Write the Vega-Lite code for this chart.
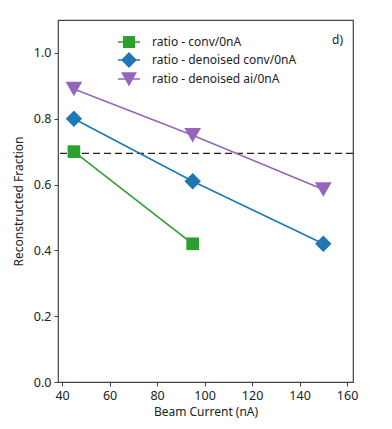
{
  "$schema": "https://vega.github.io/schema/vega-lite/v6.json",
  "autosize": {"type": "none"},
  "padding": {"left": 58, "top": 20, "right": 39, "bottom": 47},
  "width": 295,
  "height": 362,
  "config": {
    "font": "Noto Sans",
    "view": {"stroke": "#444", "strokeWidth": 1.2},
    "axis": {"domain": false, "grid": false, "tickColor": "#444", "tickSize": 4, "labelFontSize": 12.5, "labelColor": "#222", "labelPadding": 3, "titleFontSize": 12, "titleFontWeight": "normal", "titleColor": "#222"},
    "axisY": {"titlePadding": 8},
    "axisX": {"titlePadding": 5}
  },
  "datasets": {
    "series": [
      {"series": "ratio - conv/0nA", "current": 45, "fraction": 0.70},
      {"series": "ratio - conv/0nA", "current": 95, "fraction": 0.42},
      {"series": "ratio - denoised conv/0nA", "current": 45, "fraction": 0.80},
      {"series": "ratio - denoised conv/0nA", "current": 95, "fraction": 0.61},
      {"series": "ratio - denoised conv/0nA", "current": 150, "fraction": 0.42},
      {"series": "ratio - denoised ai/0nA", "current": 45, "fraction": 0.89},
      {"series": "ratio - denoised ai/0nA", "current": 95, "fraction": 0.75},
      {"series": "ratio - denoised ai/0nA", "current": 150, "fraction": 0.585}
    ],
    "ref": [{"fraction": 0.695}],
    "label": [{"current": 156, "fraction": 1.04, "text": "d)"}]
  },
  "layer": [
    {
      "data": {"name": "ref"},
      "mark": {"type": "rule", "color": "#222", "strokeWidth": 1.2, "strokeDash": [7, 4]},
      "encoding": {"y": {"field": "fraction", "type": "quantitative", "scale": {"domain": [0, 1.1]}}}
    },
    {
      "data": {"name": "series"},
      "mark": {"type": "line", "strokeWidth": 1.6},
      "encoding": {
        "x": {"field": "current", "type": "quantitative", "title": "Beam Current (nA)", "scale": {"domain": [38.3, 162.5], "nice": false, "zero": false}, "axis": {"values": [40, 60, 80, 100, 120, 140, 160]}},
        "y": {"field": "fraction", "type": "quantitative", "title": "Reconstructed Fraction", "scale": {"domain": [0, 1.1], "nice": false}, "axis": {"values": [0, 0.2, 0.4, 0.6, 0.8, 1.0], "format": ".1f"}},
        "color": {
          "field": "series", "type": "nominal",
          "scale": {"domain": ["ratio - conv/0nA", "ratio - denoised conv/0nA", "ratio - denoised ai/0nA"], "range": ["#2ca02c", "#1f77b4", "#9467bd"]},
          "legend": {
            "title": null, "orient": "none", "legendX": 60, "legendY": 11,
            "symbolSize": 484, "labelFontSize": 12, "labelColor": "#222", "labelOffset": 12, "rowPadding": -3.5,
            "encode": {
              "symbols": {
                "update": {
                  "shape": {"signal": "datum.value == 'ratio - conv/0nA' ? 'M-1,-0.07H1V0.07H-1Z M-0.55,-0.55H0.55V0.55H-0.55Z' : datum.value == 'ratio - denoised conv/0nA' ? 'M-1,-0.07H1V0.07H-1Z M0,-0.72L0.72,0L0,0.72L-0.72,0Z' : 'M-1,-0.07H1V0.07H-1Z M-0.72,-0.62L0.72,-0.62L0,0.68Z'"},
                  "fill": {"scale": "color", "field": "value"},
                  "fillOpacity": {"value": 1},
                  "strokeWidth": {"value": 0}
                }
              }
            }
          }
        }
      }
    },
    {
      "data": {"name": "series"},
      "transform": [{"filter": "datum.series == 'ratio - conv/0nA'"}],
      "mark": {"type": "point", "filled": true, "opacity": 1, "shape": "square", "size": 160, "color": "#2ca02c"},
      "encoding": {
        "x": {"field": "current", "type": "quantitative"},
        "y": {"field": "fraction", "type": "quantitative"}
      }
    },
    {
      "data": {"name": "series"},
      "transform": [{"filter": "datum.series == 'ratio - denoised conv/0nA'"}],
      "mark": {"type": "point", "filled": true, "opacity": 1, "shape": "diamond", "size": 270, "color": "#1f77b4"},
      "encoding": {
        "x": {"field": "current", "type": "quantitative"},
        "y": {"field": "fraction", "type": "quantitative"}
      }
    },
    {
      "data": {"name": "series"},
      "transform": [{"filter": "datum.series == 'ratio - denoised ai/0nA'"}],
      "mark": {"type": "point", "filled": true, "opacity": 1, "shape": "triangle-down", "size": 280, "color": "#9467bd"},
      "encoding": {
        "x": {"field": "current", "type": "quantitative"},
        "y": {"field": "fraction", "type": "quantitative"}
      }
    },
    {
      "data": {"name": "label"},
      "mark": {"type": "text", "fontSize": 12, "color": "#222"},
      "encoding": {
        "x": {"field": "current", "type": "quantitative"},
        "y": {"field": "fraction", "type": "quantitative"},
        "text": {"field": "text"}
      }
    }
  ]
}
